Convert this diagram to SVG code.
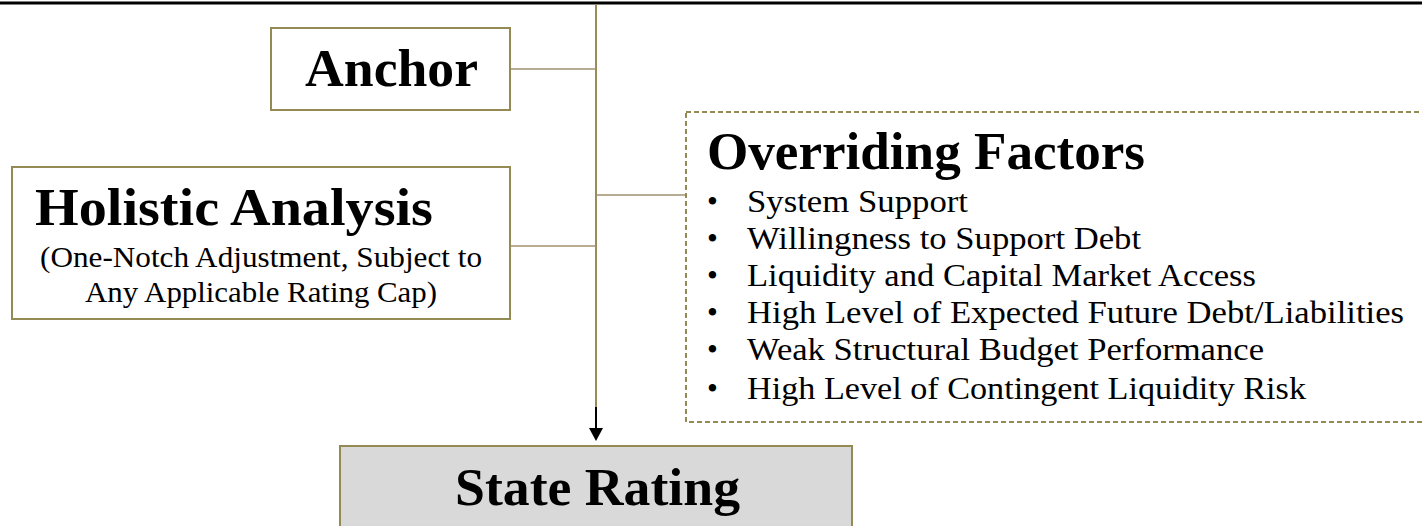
<svg xmlns="http://www.w3.org/2000/svg" width="1422" height="526" viewBox="0 0 1422 526">
<style>
.box{fill:#ffffff;stroke:#948a54;stroke-width:2}
.dash{fill:#ffffff;stroke:#948a54;stroke-width:2;stroke-dasharray:5 3}
.grey{fill:#d9d9d9;stroke:#948a54;stroke-width:2}
.conn{stroke:#a0906e;stroke-width:1.5;fill:none}
.trunk{stroke:#9a8b5a;stroke-width:2;fill:none}
.t{font-family:"Liberation Serif","Times New Roman",serif;fill:#000}
.title{font-size:52px;font-weight:bold}
.sub{font-size:30px}
.item{font-size:31px}
</style>
<rect x="0" y="0" width="1422" height="526" fill="#ffffff"/>
<line x1="0" y1="3" x2="1422" y2="3" stroke="#000" stroke-width="3"/>
<g id="connectors">
<line class="trunk" x1="596" y1="4" x2="596" y2="408"/>
<line x1="596" y1="407" x2="596" y2="431" stroke="#000" stroke-width="2"/>
<polygon points="589,428 603,428 596,441" fill="#000"/>
<line class="conn" x1="510" y1="69" x2="596" y2="69"/>
<line class="conn" x1="510" y1="246" x2="596" y2="246"/>
<line class="conn" x1="596" y1="195" x2="686" y2="195"/>
</g>
<g id="anchor">
<rect class="box" x="271" y="28" width="239" height="82"/>
<text class="t title" x="305" y="86" textLength="173" lengthAdjust="spacingAndGlyphs">Anchor</text>
</g>
<g id="holistic">
<rect class="box" x="12" y="167" width="498" height="152"/>
<text class="t title" x="35" y="225" textLength="398" lengthAdjust="spacingAndGlyphs">Holistic Analysis</text>
<text class="t sub" x="40" y="267" textLength="442" lengthAdjust="spacingAndGlyphs">(One-Notch Adjustment, Subject to</text>
<text class="t sub" x="85" y="302" textLength="352" lengthAdjust="spacingAndGlyphs">Any Applicable Rating Cap)</text>
</g>
<g id="overriding">
<rect class="dash" x="686" y="112" width="745" height="310"/>
<text class="t title" x="707" y="169" textLength="438" lengthAdjust="spacingAndGlyphs">Overriding Factors</text>
<g class="t item">
<text x="707" y="212">•</text>
<text x="747" y="212" textLength="221" lengthAdjust="spacingAndGlyphs">System Support</text>
<text x="707" y="249">•</text>
<text x="747" y="249" textLength="394" lengthAdjust="spacingAndGlyphs">Willingness to Support Debt</text>
<text x="707" y="286">•</text>
<text x="747" y="286" textLength="509" lengthAdjust="spacingAndGlyphs">Liquidity and Capital Market Access</text>
<text x="707" y="323">•</text>
<text x="747" y="323" textLength="657" lengthAdjust="spacingAndGlyphs">High Level of Expected Future Debt/Liabilities</text>
<text x="707" y="360">•</text>
<text x="747" y="360" textLength="517" lengthAdjust="spacingAndGlyphs">Weak Structural Budget Performance</text>
<text x="707" y="399">•</text>
<text x="747" y="399" textLength="559" lengthAdjust="spacingAndGlyphs">High Level of Contingent Liquidity Risk</text>
</g>
</g>
<g id="state-rating">
<rect class="grey" x="340" y="446" width="512" height="90"/>
<text class="t title" x="455" y="505" textLength="285" lengthAdjust="spacingAndGlyphs">State Rating</text>
</g>
</svg>
